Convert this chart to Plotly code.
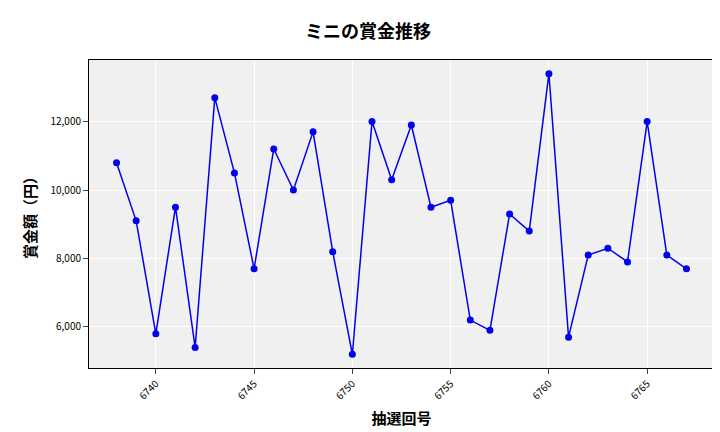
import plotly.graph_objects as go

draws = list(range(6738, 6768))
prizes = [10800, 9100, 5800, 9500, 5400, 12700, 10500, 7700, 11200, 10000,
          11700, 8200, 5200, 12000, 10300, 11900, 9500, 9700, 6200, 5900,
          9300, 8800, 13400, 5700, 8100, 8300, 7900, 12000, 8100, 7700]
tick_vals = [6740, 6745, 6750, 6755, 6760, 6765]

fig = go.Figure(go.Scatter(
    x=draws, y=prizes, mode="lines+markers",
    line=dict(color="#0000ee", width=1.5),
    marker=dict(color="#0000ee", size=7),
))

font = "Noto Sans CJK JP"
fig.update_layout(
    width=720, height=432,
    margin=dict(l=81, r=14, t=52, b=72, autoexpand=False),
    paper_bgcolor="white", plot_bgcolor="#f0f0f0",
    font=dict(family=font, color="black", size=10),
    title=dict(text="<b>ミニの賞金推移</b>", x=0.5, xanchor="center",
               y=0.945, yanchor="middle", font=dict(size=18)),
    showlegend=False,
)
fig.update_xaxes(
    title=dict(text="<b>抽選回号</b>", font=dict(size=15), standoff=12),
    tickvals=tick_vals, tickangle=-45, range=[6736.6, 6768.4],
    showgrid=True, gridcolor="white", zeroline=False, automargin=False,
    showline=True, linecolor="black", mirror=True, ticks="outside",
)
fig.update_yaxes(
    title=dict(text="<b>賞金額（円）</b>", font=dict(size=15), standoff=10),
    tickformat=",", dtick=2000, range=[4800, 13800],
    showgrid=True, gridcolor="white", zeroline=False, automargin=False,
    showline=True, linecolor="black", mirror=True, ticks="outside",
)

fig.write_html("out.html")
